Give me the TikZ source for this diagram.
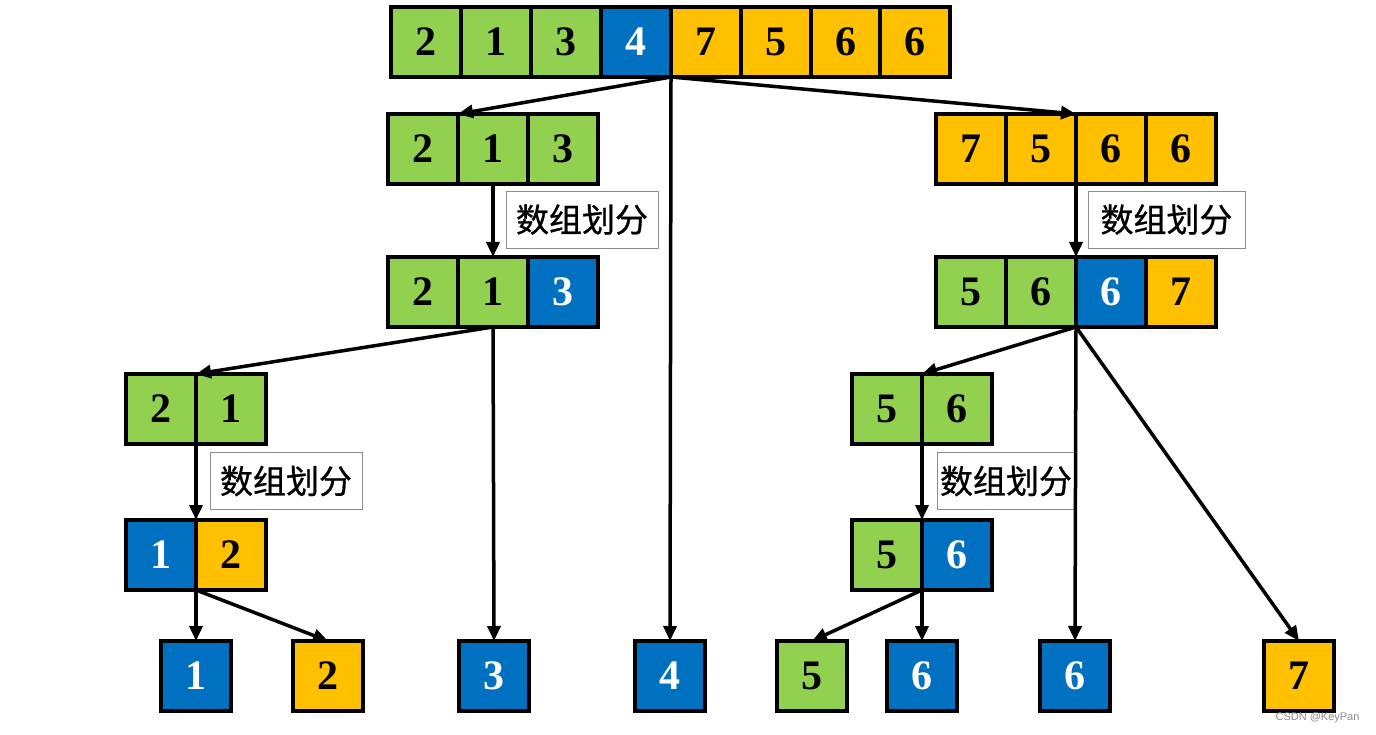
\documentclass[tikz,border=0pt]{standalone}
\usepackage{fontspec}
\setmainfont{Liberation Serif}
\newfontfamily\cjk[FakeBold=0.8]{Noto Sans CJK SC}
\newfontfamily\wmfont{Liberation Sans}
\usetikzlibrary{arrows.meta}
\definecolor{cgreen}{HTML}{92D050}
\definecolor{cblue}{HTML}{0070C0}
\definecolor{corange}{HTML}{FFC000}
\tikzset{
  cell/.style={draw=black, line width=3.5pt, minimum width=70pt, minimum height=70pt,
    inner sep=0pt, outer sep=0pt, font=\bfseries\fontsize{42}{42}\selectfont},
  gc/.style={cell, fill=cgreen, text=black},
  bc/.style={cell, fill=cblue, text=white},
  oc/.style={cell, fill=corange, text=black},
  lab/.style={draw=black!45, line width=0.8pt, fill=white, minimum height=57pt,
    inner sep=0pt, font=\cjk\fontsize{33}{33}\selectfont},
  conn/.style={line width=3.5pt, -{Triangle[length=15pt,width=13pt]}},
}
\begin{document}
\begin{tikzpicture}[x=1pt,y=-1pt]
\useasboundingbox (0,0) rectangle (1376,735);
% top row
\node[gc] (t1) at (426,42) {2};
\node[gc] (t2) at (496,42) {1};
\node[gc] (t3) at (566,42) {3};
\node[bc] (t4) at (636,42) {4};
\node[oc] (t5) at (706,42) {7};
\node[oc] (t6) at (776,42) {5};
\node[oc] (t7) at (846,42) {6};
\node[oc] (t8) at (915,42) {6};
% row 2 left
\node[gc] (a1) at (423,149) {2};
\node[gc] (a2) at (493,149) {1};
\node[gc] (a3) at (563,149) {3};
% row 2 right
\node[oc] (b1) at (971,149) {7};
\node[oc] (b2) at (1041,149) {5};
\node[oc] (b3) at (1111,149) {6};
\node[oc] (b4) at (1181,149) {6};
% labels
\node[lab, minimum width=152pt] (l1) at (582,219.5) {数组划分};
\node[lab, minimum width=157pt] (l2) at (1166.5,219.5) {数组划分};
% row 3 left
\node[gc] (c1) at (423,292) {2};
\node[gc] (c2) at (493,292) {1};
\node[bc] (c3) at (563,292) {3};
% row 3 right
\node[gc] (d1) at (971,292) {5};
\node[gc] (d2) at (1041,292) {6};
\node[bc] (d3) at (1111,292) {6};
\node[oc] (d4) at (1181,292) {7};
% row 4
\node[gc] (e1) at (161,409) {2};
\node[gc] (e2) at (231,409) {1};
\node[gc] (f1) at (887,409) {5};
\node[gc] (f2) at (957,409) {6};
\node[lab, minimum width=152pt] (l3) at (286,481) {数组划分};
\node[lab, minimum width=138pt] (l4) at (1006,481) {数组划分};
% row 5
\node[bc] (g1) at (161,555) {1};
\node[oc] (g2) at (231,555) {2};
\node[gc] (h1) at (887,555) {5};
\node[bc] (h2) at (957,555) {6};
% bottom
\node[bc] (s1) at (196,676) {1};
\node[oc] (s2) at (328,676) {2};
\node[bc] (s3) at (494,676) {3};
\node[bc] (s4) at (670,676) {4};
\node[gc] (s5) at (812,676) {5};
\node[bc] (s6) at (922,676) {6};
\node[bc] (s7) at (1075,676) {6};
\node[oc] (s8) at (1299,676) {7};
% connectors
\draw[conn] (t4.south east) -- (a1.north east);
\draw[conn] (t4.south east) -- (s4.north);
\draw[conn] (t4.south east) -- (b2.north east);
\draw[conn] (a2.south) -- (c2.north);
\draw[conn] (b2.south east) -- (d2.north east);
\draw[conn] (c2.south) -- (e1.north east);
\draw[conn] (c2.south) -- (s3.north);
\draw[conn] (d2.south east) -- (f1.north east);
\draw[conn] (d2.south east) -- (s7.north);
\draw[conn] (d2.south east) -- (s8.north);
\draw[conn] (e1.south east) -- (g1.north east);
\draw[conn] (f1.south east) -- (h1.north east);
\draw[conn] (g1.south east) -- (s1.north);
\draw[conn] (g1.south east) -- (s2.north);
\draw[conn] (h1.south east) -- (s5.north);
\draw[conn] (h1.south east) -- (s6.north);
% watermark
\node[font=\wmfont\fontsize{11}{11}\selectfont, text=black!45, anchor=east] (wm) at (1363,718) {CSDN @KeyPan};
\end{tikzpicture}
\end{document}
